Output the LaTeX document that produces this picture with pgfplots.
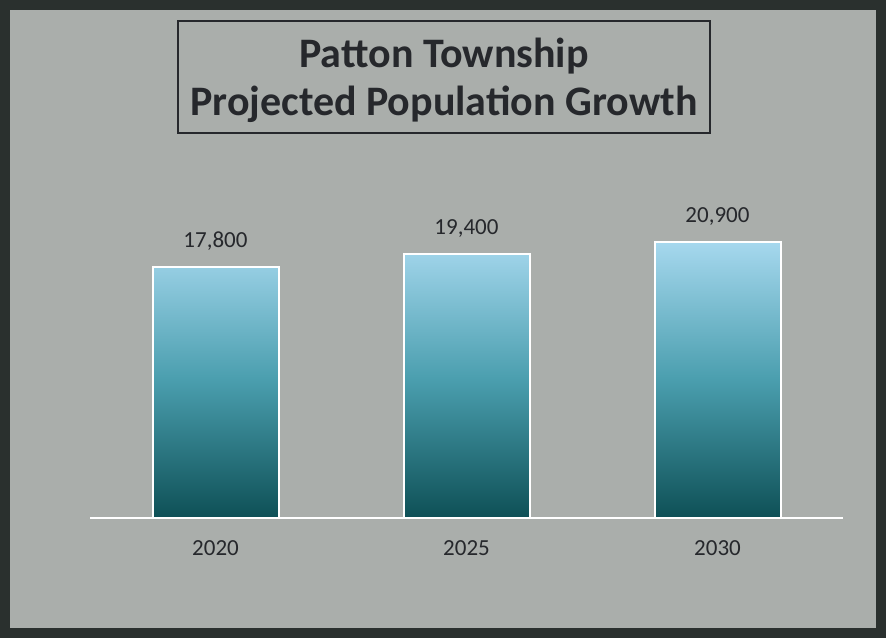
\documentclass[border=0pt]{standalone}
\usepackage{fontspec}
\setmainfont{Carlito}
\usepackage{pgfplots}
\pgfplotsset{compat=1.18}
\definecolor{bggray}{HTML}{AAAEAB}
\definecolor{framec}{HTML}{2A302E}
\definecolor{bartop}{HTML}{A6D8EE}
\definecolor{barmid}{HTML}{4A9EAE}
\definecolor{barbot}{HTML}{0E5056}
\definecolor{txt}{HTML}{26282C}

\begin{document}
\begin{tikzpicture}[x=1pt,y=1pt]
% frame and title box
\fill[framec] (0,0) rectangle (443,319);
\fill[bggray] (5,5) rectangle (438,314);
\draw[txt, line width=0.7pt] (89,252.5) rectangle (355,308.5);
\node[font=\bfseries\fontsize{21}{24}\selectfont, text=txt] at (222,291) {Patton Township};
\node[font=\bfseries\fontsize{21}{24}\selectfont, text=txt] at (222,267) {Projected Population Growth};
\begin{axis}[
  at={(45pt,60pt)}, anchor=south west, scale only axis,
  width=376.5pt, height=159pt,
  ybar, bar width=63pt,
  % bars start at the bottom of the axis, not at zero
  y coord trafo/.code={\begingroup\pgfkeys{/pgf/fpu,/pgf/fpu/output format=fixed}%
    \pgfmathparse{#1+13300}\pgfmathsmuggle\pgfmathresult\endgroup},
  y coord inv trafo/.code={\begingroup\pgfkeys{/pgf/fpu,/pgf/fpu/output format=fixed}%
    \pgfmathparse{#1-13300}\pgfmathsmuggle\pgfmathresult\endgroup},
  xmin=-0.5, xmax=2.5, ymin=-13300, ymax=26100,
  enlarge x limits=false,
  xtick=data, xticklabels={2020,2025,2030},
  axis x line=bottom, axis y line=none,
  axis line style={white, line width=0.8pt, -},
  major tick length=0pt,
  x tick label style={font=\fontsize{11.5}{13}\selectfont, text=txt, yshift=-7.5pt},
  point meta=rawy,
  nodes near coords,
  nodes near coords style={font=\fontsize{11.5}{13}\selectfont, text=txt, inner sep=0pt, anchor=south, yshift=7.6pt},
  /pgf/number format/.cd, fixed, 1000 sep={,}, assume math mode=true,
]
\addplot[draw=white, line width=1pt, top color=bartop, bottom color=barbot, middle color=barmid]
  coordinates {(0,17800) (1,19400) (2,20900)};
\end{axis}
\end{tikzpicture}
\end{document}
